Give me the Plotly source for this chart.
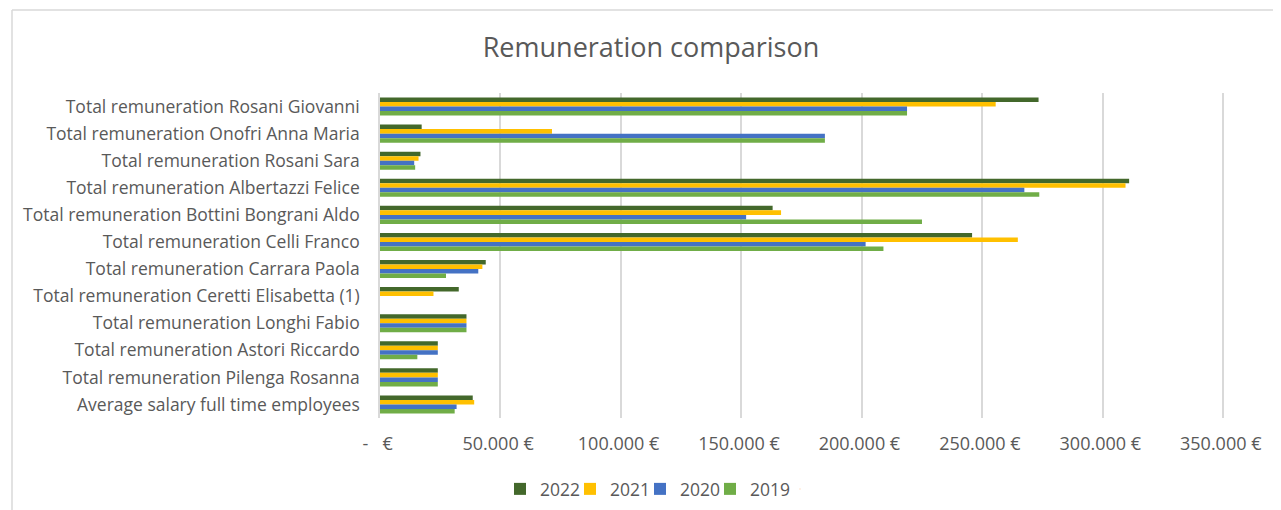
import plotly.graph_objects as go

categories = [
    "Total remuneration Rosani Giovanni",
    "Total remuneration Onofri Anna Maria",
    "Total remuneration Rosani Sara",
    "Total remuneration Albertazzi Felice",
    "Total remuneration Bottini Bongrani Aldo",
    "Total remuneration Celli Franco",
    "Total remuneration Carrara Paola",
    "Total remuneration Ceretti Elisabetta (1)",
    "Total remuneration Longhi Fabio",
    "Total remuneration Astori Riccardo",
    "Total remuneration Pilenga Rosanna",
    "Average salary full time employees",
]

v2022 = [273400, 17300, 16800, 311000, 163000, 245800, 43900, 32700, 35900, 24000, 24000, 38500]
v2021 = [255600, 71400, 16000, 309500, 166500, 264800, 42500, 22200, 35900, 24000, 24000, 39100]
v2020 = [218800, 184700, 14200, 267500, 152000, 201600, 40800, None, 35900, 24000, 24000, 31800]
v2019 = [218800, 184700, 14600, 273700, 225000, 209000, 27400, None, 35900, 15500, 24000, 31000]

tick_vals = [0, 50000, 100000, 150000, 200000, 250000, 300000, 350000]
tick_text = ["-   € ", "50.000 € ", "100.000 € ", "150.000 € ", "200.000 € ",
             "250.000 € ", "300.000 € ", "350.000 € "]

series = [
    ("2022", v2022, "#43682B"),
    ("2021", v2021, "#FFC000"),
    ("2020", v2020, "#4472C4"),
    ("2019", v2019, "#70AD47"),
]

fig = go.Figure()
for name, vals, color in series:
    fig.add_trace(go.Bar(
        name=name, y=categories, x=vals, orientation="h",
        marker=dict(color=color, line=dict(width=0)),
    ))
# invisible legend spacer (scatter, so bar grouping is unaffected) that keeps
# the last legend label from being clipped
fig.add_trace(go.Scatter(name=" ", x=[0], y=[categories[0]], mode="markers",
                         marker=dict(opacity=0, size=1), hoverinfo="skip",
                         showlegend=True))

font_family = "Open Sans, Noto Sans, sans-serif"

# page body has an 8px margin; figure is laid out in its own coordinates
W, H = 1273, 502
ml, mr, mt, mb = 372, 56, 85, 92
pw = W - ml - mr
ph = H - mt - mb

def px_x(px):
    return (px - ml) / pw

def px_y(py):
    return (H - mb - py) / ph

n_cat = len(categories)

fig.update_layout(
    width=W, height=H,
    margin=dict(l=ml, r=mr, t=mt, b=mb, autoexpand=False),
    paper_bgcolor="white", plot_bgcolor="white",
    barmode="group", bargap=0.33, bargroupgap=0,
    title=dict(text="Remuneration comparison", x=643 / W, xanchor="center",
               y=1 - 40 / H, yanchor="middle",
               font=dict(family=font_family, size=27, color="#595959")),
    font=dict(family=font_family, size=17, color="#595959"),
    xaxis=dict(range=[0, 350800], tickvals=tick_vals, ticktext=tick_text,
               showgrid=True, gridcolor="#D9D9D9", gridwidth=1.5,
               zeroline=False, showline=False, ticks="", automargin=False,
               ticklabelstandoff=13,
               tickfont=dict(size=18, color="#595959")),
    yaxis=dict(range=[n_cat - 0.5, -0.5], showgrid=False, zeroline=False,
               showline=True, linecolor="#D9D9D9", linewidth=1.5, ticks="",
               automargin=False, ticklabelstandoff=15,
               tickfont=dict(size=17.5, color="#595959")),
    legend=dict(orientation="h", xref="container", yref="container",
                x=492 / W, xanchor="left", y=1 - 481 / H, yanchor="middle",
                font=dict(size=17.5, color="#595959"),
                traceorder="normal", itemwidth=30,
                entrywidth=25, entrywidthmode="pixels"),
    shapes=[
        dict(type="line", xref="paper", yref="paper",
             x0=px_x(4), x1=px_x(1290), y0=px_y(2), y1=px_y(2),
             line=dict(color="#D9D9D9", width=1.5), layer="below"),
        dict(type="line", xref="paper", yref="paper",
             x0=px_x(4), x1=px_x(4), y0=px_y(2), y1=px_y(520),
             line=dict(color="#D9D9D9", width=1.5), layer="below"),
    ],
)

fig.write_html("out.html")
